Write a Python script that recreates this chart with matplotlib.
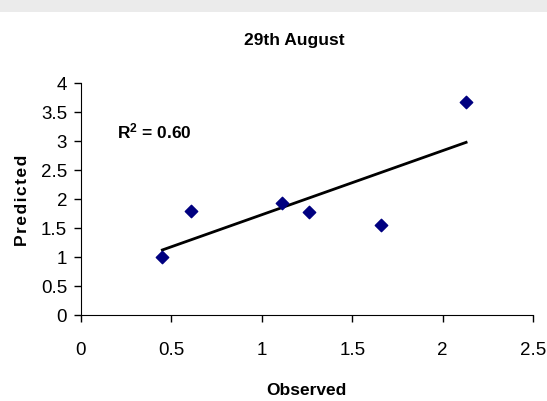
import numpy as np
import matplotlib.pyplot as plt
from matplotlib.patches import Rectangle

plt.rcParams['font.family'] = ['Liberation Sans', 'DejaVu Sans']
plt.rcParams['mathtext.fontset'] = 'custom'
plt.rcParams['mathtext.rm'] = 'Liberation Sans'
plt.rcParams['mathtext.bf'] = 'Liberation Sans:bold'

# data
observed = [0.45, 0.61, 1.11, 1.26, 1.66, 2.13]
predicted = [1.00, 1.80, 1.93, 1.77, 1.55, 3.67]
x_ticks = [0, 0.5, 1, 1.5, 2, 2.5]
y_ticks = [0, 0.5, 1, 1.5, 2, 2.5, 3, 3.5, 4]

# linear trend + R^2
slope, intercept = np.polyfit(observed, predicted, 1)
r2 = np.corrcoef(observed, predicted)[0, 1] ** 2
x_fit = np.array([min(observed), max(observed)])

fig = plt.figure(figsize=(5.47, 4.02), dpi=100)
ax = fig.add_axes([81 / 547, 1 - 316 / 402, 452 / 547, 232 / 402])

# grey band at the top of the picture
fig.patches.append(Rectangle((0, 1 - 13 / 402), 1, 13 / 402, transform=fig.transFigure,
                             facecolor='#ebebeb', edgecolor='none'))

ax.plot(x_fit, slope * x_fit + intercept, color='black', lw=2)
ax.scatter(observed, predicted, marker='D', s=40, color='#000080', zorder=3)

ax.text(0.197, 3.18, r"$\mathbf{R^{2}}$" + f" = {r2:.2f}", fontsize=12.5,
        fontweight='bold', va='center')

ax.set_xlim(0, 2.5)
ax.set_ylim(0, 4)
ax.set_xticks(x_ticks)
ax.set_xticklabels([f"{t:g}" for t in x_ticks])
ax.set_yticks(y_ticks)
ax.set_yticklabels([f"{t:g}" for t in y_ticks])
ax.tick_params(labelsize=13.5, length=5, width=1, direction='out', pad=5)
ax.tick_params(axis='x', pad=14)
for s in ['top', 'right']:
    ax.spines[s].set_visible(False)

hs = "\u200a"
fig.text(306 / 547, 1 - 391 / 402, "Observed", fontsize=12.5, fontweight='bold',
         ha='center', va='center')
fig.text(23 / 547, 1 - 200 / 402, hs.join("Predicted"), fontsize=12.5, fontweight='bold',
         rotation=90, ha='center', va='center')
fig.text(294 / 547, 1 - 40 / 402, "29th August", fontsize=12.5, fontweight='bold',
         ha='center', va='center')

fig.savefig("out.png", dpi=100)
